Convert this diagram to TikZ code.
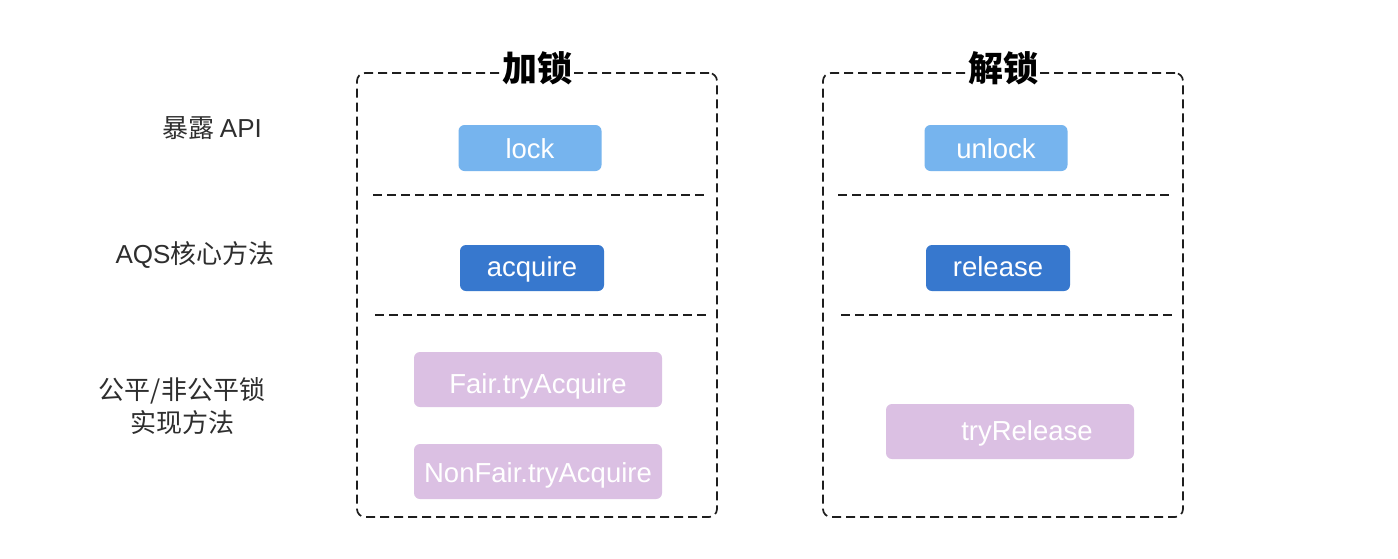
\documentclass[tikz,border=0pt]{standalone}
\usepackage{fontspec}
\setmainfont{Liberation Sans}
\newfontfamily\cjk{Noto Sans CJK SC}
\newfontfamily\latin{Liberation Sans}
\definecolor{lightblue}{HTML}{76B4EE}
\definecolor{darkblue}{HTML}{3778CE}
\definecolor{lilac}{HTML}{DBC0E3}
\definecolor{labelgray}{HTML}{2E2E2E}
\definecolor{frameline}{HTML}{1E1E1E}
\tikzset{
  methodbox/.style={rounded corners=6pt, text=white, inner sep=0pt, text height=20pt, text depth=0pt, font=\fontsize{27.5}{30}\selectfont},
  apibox/.style={methodbox, fill=lightblue, minimum width=143pt, minimum height=46pt},
  aqsbox/.style={methodbox, fill=darkblue, minimum width=144pt, minimum height=46pt, text height=16pt},
  implbox/.style={methodbox, fill=lilac, minimum width=248pt, minimum height=55pt},
  frame/.style={draw=frameline, line width=1.7pt, dash pattern=on 9pt off 5pt, rounded corners=8pt, minimum width=360pt, minimum height=444pt, inner sep=0pt},
  separator/.style={draw=frameline, line width=1.7pt, dash pattern=on 9pt off 5pt},
  titletext/.style={fill=white, inner sep=1pt, font=\cjk\bfseries\fontsize{35}{40}\selectfont},
  rowlabel/.style={text=labelgray, align=center, font=\cjk\fontsize{26}{33}\selectfont},
}
\begin{document}
\begin{tikzpicture}[x=1pt, y=-1pt]
\useasboundingbox[fill=white] (0,0) rectangle (1398,558);
% frames
\node[frame] (frameL) at (537,295) {};
\node[frame] (frameR) at (1003,295) {};
\node[titletext] (titleL) at (537,68) {加锁};
\node[titletext] (titleR) at (1003,68) {解锁};
% separators
\draw[separator] (373,195) -- (705,195);
\draw[separator] (838,195) -- (1170,195);
\draw[separator] (375,315) -- (707,315);
\draw[separator] (841,315) -- (1173,315);
% row labels
\node[rowlabel] (lab1) at (212,128) {暴露 {\latin API}};
\node[rowlabel] (lab2) at (195,255) {{\latin AQS}核心方法};
\node[rowlabel] (lab3) at (182,406) {公平/非公平锁\\实现方法};
% boxes
\node[apibox] (lock) at (530,148) {lock};
\node[apibox] (unlock) at (996,148) {unlock};
\node[aqsbox] (acquire) at (532,268) {acquire};
\node[aqsbox] (release) at (998,268) {release};
\node[implbox, text height=27pt] (fair) at (538,379.5) {Fair.tryAcquire};
\node[implbox, text height=21pt] (nonfair) at (538,471.5) {NonFair.tryAcquire};
\node[implbox, text height=17pt] (tryrel) at (1010,431.5) {\hspace*{34pt}tryRelease};
\end{tikzpicture}
\end{document}
